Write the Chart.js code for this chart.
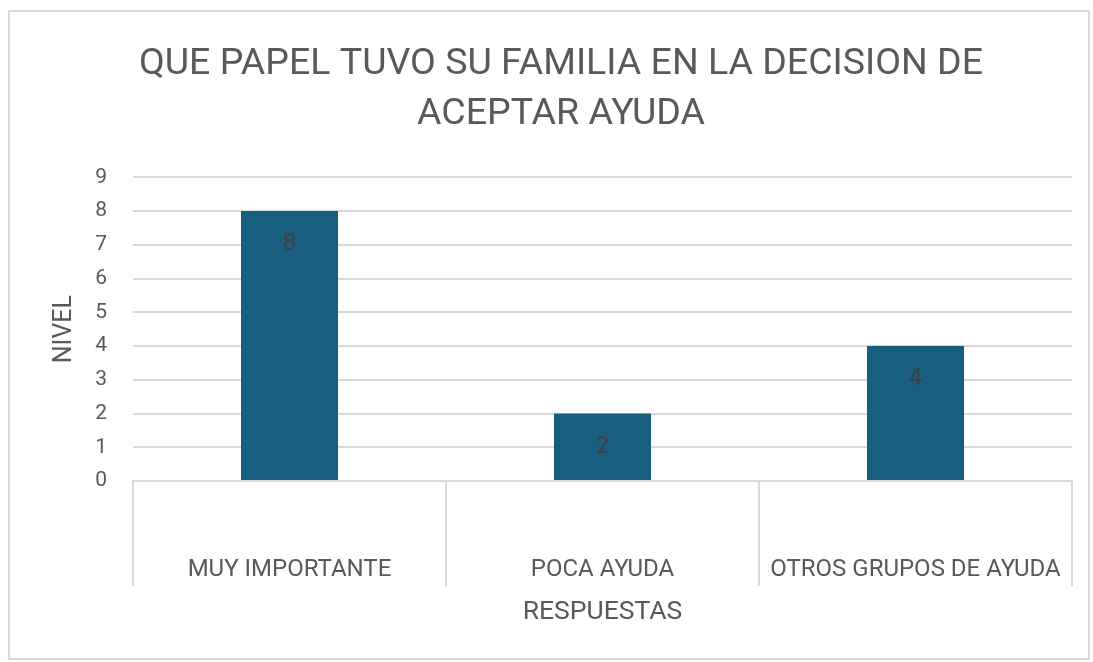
<!DOCTYPE html>
<html>
<head>
<meta charset="utf-8">
<script src="https://cdn.jsdelivr.net/npm/chart.js@4/dist/chart.umd.min.js"></script>
<style>
  html, body { margin: 0; padding: 0; background: #ffffff; }
  #frame {
    position: absolute; left: 8px; top: 10px;
    width: 1082px; height: 650px;
    box-sizing: border-box;
    border: 2px solid #d9d9d9;
    background: #ffffff;
  }
  #chart { display: block; }
</style>
</head>
<body>
<div id="frame"><canvas id="chart" width="1078" height="646"></canvas></div>
<script>
// Datos del gráfico
const titleLines = ['QUE PAPEL TUVO SU FAMILIA EN LA DECISION DE', 'ACEPTAR AYUDA'];
const categories = ['MUY IMPORTANTE', 'POCA AYUDA', 'OTROS GRUPOS DE AYUDA'];
const values = [8, 2, 4];
const yTitle = 'NIVEL';
const xTitle = 'RESPUESTAS';

const FONT = "Roboto, 'Open Sans', sans-serif";
const TEXT = '#595959';
const GRID = '#d9d9d9';
const BAR = '#185e80';

// Etiquetas de valor dentro de cada barra
const valueLabels = {
  id: 'valueLabels',
  afterDatasetsDraw(chart) {
    const ctx = chart.ctx;
    const meta = chart.getDatasetMeta(0);
    ctx.save();
    ctx.font = '24px ' + FONT;
    ctx.fillStyle = '#404040';
    ctx.textAlign = 'center';
    ctx.textBaseline = 'middle';
    meta.data.forEach((bar, i) => {
      ctx.fillText(String(values[i]), bar.x, bar.y + 33);
    });
    ctx.restore();
  }
};

new Chart(document.getElementById('chart'), {
  type: 'bar',
  data: {
    labels: categories,
    datasets: [{
      data: values,
      backgroundColor: BAR,
      borderWidth: 0,
      categoryPercentage: 1,
      barPercentage: 0.31
    }]
  },
  options: {
    responsive: false,
    animation: false,
    layout: { padding: { left: 40, right: 16, top: 27, bottom: 30 } },
    plugins: {
      legend: { display: false },
      tooltip: { enabled: false },
      title: {
        display: true,
        text: titleLines,
        color: TEXT,
        font: { family: FONT, size: 37.5, weight: 'normal', lineHeight: 1.35 },
        padding: { top: 0, bottom: 37 }
      }
    },
    scales: {
      x: {
        offset: true,
        grid: {
          display: true,
          offset: true,
          drawOnChartArea: false,
          drawTicks: true,
          tickLength: 105,
          color: GRID,
          lineWidth: 2
        },
        border: { display: true, color: GRID, width: 2 },
        ticks: {
          color: TEXT,
          font: { family: FONT, size: 24 },
          padding: -30,
          maxRotation: 0,
          autoSkip: false
        },
        title: {
          display: true,
          text: xTitle,
          color: TEXT,
          font: { family: FONT, size: 26.5 },
          padding: { top: 0, bottom: 0 }
        },
        // la altura del eje se fija a mano por el padding negativo
        afterFit(scale) { scale.height = 147; }
      },
      y: {
        min: 0,
        max: 9,
        ticks: {
          stepSize: 1,
          color: TEXT,
          font: { family: FONT, size: 21 },
          padding: 26
        },
        grid: { color: GRID, lineWidth: 2, drawTicks: false },
        border: { display: false },
        title: {
          display: true,
          text: yTitle,
          color: TEXT,
          font: { family: FONT, size: 25 },
          padding: { top: 0, bottom: 0 }
        },
        afterFit(scale) { scale.width = 83; }
      }
    }
  },
  plugins: [valueLabels]
});
</script>
</body>
</html>
